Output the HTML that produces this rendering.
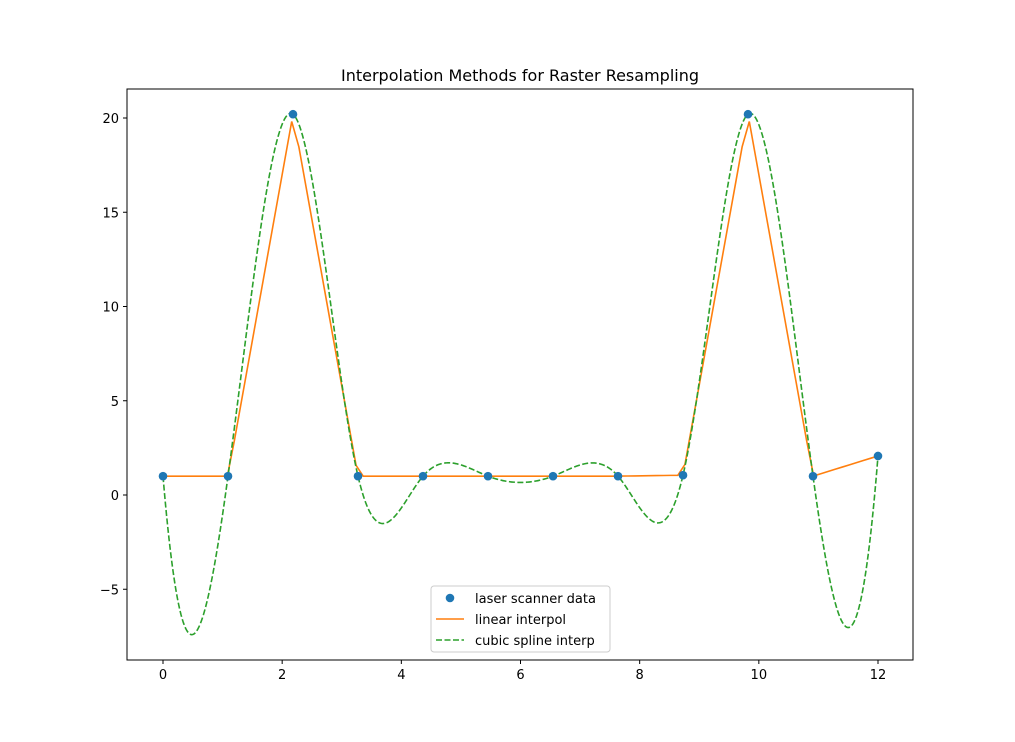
<!DOCTYPE html>
<html><head><meta charset="utf-8"><style>
body{margin:0;background:#fff;}
svg{display:block;font-family:"DejaVu Sans","Liberation Sans",sans-serif;}
</style></head><body>
<svg id="chart" width="1015" height="742">
<text x="520" y="81" text-anchor="middle" font-size="16">Interpolation Methods for Raster Resampling</text>
<g id="plot"></g>
</svg>
<script>
const xData = [0,1.0909,2.1818,3.2727,4.3636,5.4545,6.5455,7.6364,8.7273,9.8182,10.9091,12];
const yData = [1,1,20.2,1,1,1,1,1,1.05,20.2,1,2.07];
const xTicks = [0,2,4,6,8,10,12];
const yTicks = [-5,0,5,10,15,20];
const yTickLabels = ["\u22125","0","5","10","15","20"];
const legendLabels = ["laser scanner data","linear interpol","cubic spline interp"];

const L=127,R=913,T=89,B=660;
const sx=v=>163+(v-0)*(878-163)/12;
const sy=v=>495-v*(495-118)/20;
const NS="http://www.w3.org/2000/svg";
const g=document.getElementById('plot');
function mk(tag,attrs,parent){const e=document.createElementNS(NS,tag);for(const k in attrs)e.setAttribute(k,attrs[k]);(parent||g).appendChild(e);return e;}

// linear interp on fine grid
function lin(x){for(let i=0;i<xData.length-1;i++){if(x<=xData[i+1]){const t=(x-xData[i])/(xData[i+1]-xData[i]);return yData[i]+t*(yData[i+1]-yData[i]);}}return yData[yData.length-1];}
// not-a-knot cubic spline
const n=xData.length;const h=[];for(let i=0;i<n-1;i++)h.push(xData[i+1]-xData[i]);
const A=[];const rhs=[];for(let i=0;i<n;i++){A.push(new Array(n).fill(0));rhs.push(0);}
A[0][0]=-1/h[0];A[0][1]=1/h[0]+1/h[1];A[0][2]=-1/h[1];
A[n-1][n-3]=-1/h[n-3];A[n-1][n-2]=1/h[n-3]+1/h[n-2];A[n-1][n-1]=-1/h[n-2];
for(let i=1;i<n-1;i++){A[i][i-1]=h[i-1];A[i][i]=2*(h[i-1]+h[i]);A[i][i+1]=h[i];rhs[i]=6*((yData[i+1]-yData[i])/h[i]-(yData[i]-yData[i-1])/h[i-1]);}
for(let c=0;c<n;c++){let p=c;for(let r=c+1;r<n;r++)if(Math.abs(A[r][c])>Math.abs(A[p][c]))p=r;[A[c],A[p]]=[A[p],A[c]];[rhs[c],rhs[p]]=[rhs[p],rhs[c]];
for(let r=0;r<n;r++){if(r===c)continue;const f=A[r][c]/A[c][c];for(let k=c;k<n;k++)A[r][k]-=f*A[c][k];rhs[r]-=f*rhs[c];}}
const M=rhs.map((v,i)=>v/A[i][i]);
function spl(x){let i=0;while(i<n-2&&x>xData[i+1])i++;const a=xData[i+1]-x,b=x-xData[i],hi=h[i];
return M[i]*a*a*a/(6*hi)+M[i+1]*b*b*b/(6*hi)+(yData[i]/hi-M[i]*hi/6)*a+(yData[i+1]/hi-M[i+1]*hi/6)*b;}

const fine=[];for(let k=0;k<=100;k++)fine.push(12*k/100);
const dense=[];for(let k=0;k<=600;k++)dense.push(12*k/600);

// axes frame
const frame=mk('rect',{x:L,y:T,width:R-L,height:B-T,fill:'none',stroke:'#000','stroke-width':1});


xTicks.forEach(v=>{const x=sx(v);mk('line',{x1:x,x2:x,y1:B,y2:B+4,stroke:'#000'});
const t=mk('text',{x:x,y:B+19,'text-anchor':'middle','font-size':13});t.textContent=v;

});
yTicks.forEach((v,i)=>{const y=sy(v);mk('line',{x1:L-4,x2:L,y1:y,y2:y,stroke:'#000'});
const t=mk('text',{x:L-8,y:y+5,'text-anchor':'end','font-size':13});t.textContent=yTickLabels[i];

});

const lp=mk('polyline',{points:fine.map(x=>sx(x)+','+sy(lin(x))).join(' '),fill:'none',stroke:'#ff7f0e','stroke-width':1.6});


const sp=mk('polyline',{points:dense.map(x=>sx(x)+','+sy(spl(x))).join(' '),fill:'none',stroke:'#2ca02c','stroke-width':1.6,'stroke-dasharray':'6,2.5'});


xData.forEach((x,i)=>{const c=mk('circle',{cx:sx(x),cy:sy(yData[i]),r:4.3,fill:'#1f77b4'});

});

// legend
const lg=mk('g',{});


mk('rect',{x:431,y:586,width:179,height:66,rx:3,fill:'#fff','fill-opacity':0.8,stroke:'#ccc'},lg);
mk('circle',{cx:450,cy:598,r:4.3,fill:'#1f77b4'},lg);
mk('line',{x1:436,x2:464,y1:619,y2:619,stroke:'#ff7f0e','stroke-width':1.6},lg);
mk('line',{x1:436,x2:464,y1:640,y2:640,stroke:'#2ca02c','stroke-width':1.6,'stroke-dasharray':'6,2.5'},lg);
legendLabels.forEach((s,i)=>{const t=mk('text',{x:475,y:603+i*21,'font-size':13},lg);t.textContent=s;

});
</script>
</body></html>
